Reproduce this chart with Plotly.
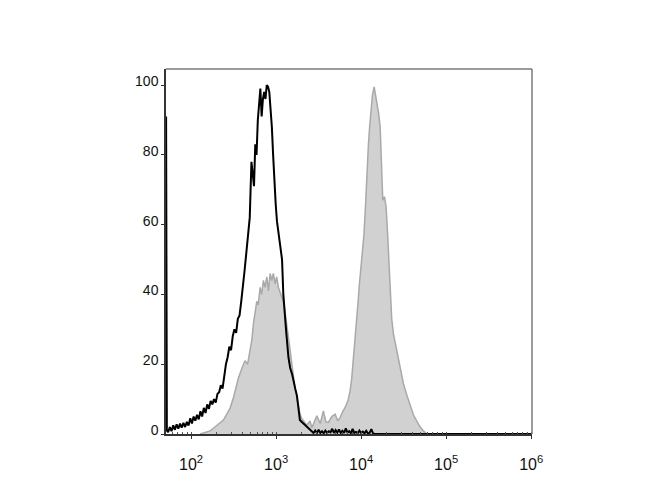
import plotly.graph_objects as go

# ---- data (log10 fluorescence, % of max) ----
ctrl_log = [1.706, 1.715, 1.73, 1.75, 1.77, 1.79, 1.81, 1.83, 1.85, 1.87, 1.89, 1.91, 1.93, 1.95, 1.97, 1.99,
            2.01, 2.03, 2.05, 2.07, 2.09, 2.11, 2.13, 2.15, 2.17, 2.19, 2.21, 2.23, 2.25, 2.27, 2.29, 2.31,
            2.33, 2.35, 2.37, 2.39, 2.41, 2.43, 2.45, 2.47, 2.49, 2.51, 2.53, 2.55, 2.57, 2.59, 2.61, 2.63,
            2.65, 2.67, 2.69, 2.71, 2.725, 2.74, 2.755, 2.77, 2.785, 2.80, 2.815, 2.83, 2.845, 2.86, 2.875,
            2.89, 2.905, 2.92, 2.935, 2.95, 2.965, 2.98, 2.995, 3.01, 3.03, 3.05, 3.07, 3.085, 3.10, 3.12,
            3.145, 3.165, 3.19, 3.205, 3.225, 3.245, 3.265, 3.28, 3.30, 3.32, 3.34, 3.36, 3.38, 3.40, 3.42,
            3.44, 3.46, 3.48, 3.50, 3.52, 3.54, 3.56, 3.58, 3.60, 3.62, 3.64, 3.66, 3.68, 3.70, 3.72, 3.74,
            3.76, 3.78, 3.80, 3.82, 3.84, 3.86, 3.88, 3.90, 3.92, 3.94, 3.96, 3.98, 4.00, 4.02, 4.04, 4.06,
            4.08, 4.10, 4.12, 4.14, 4.16, 6.01]
ctrl_pct = [91, 1.0, 0.5, 2, 0.8, 2.5, 1.2, 2.8, 1.5, 3, 1.8, 3.2, 2, 3.5, 2.4, 4.5,
            3, 5, 3.8, 5.5, 4.2, 6.5, 5, 7.5, 6, 8.5, 7.2, 9.5, 8.5, 10, 9, 11.5,
            12, 14, 13, 17, 20, 22, 25, 24, 28, 30, 29, 33, 34, 38, 42, 47,
            52, 57, 62, 78, 74, 71, 83, 80, 90, 96, 99, 91, 96, 98, 96,
            100, 99.5, 98, 93, 88, 80, 72, 66, 61, 57, 53, 50, 40, 34, 29,
            22, 19, 17, 15, 13, 11, 7, 4, 3.5, 3, 2.5, 2.3, 1.5, 1.2, 0.5,
            0.3, 1, 0.3, 1.2, 0.3, 0.8, 0.2, 1, 0.3, 0.8, 0.5, 1.5, 0.3, 1.1, 0.4, 1.3,
            0.3, 0.9, 0.3, 1.6, 0.4, 0.8, 0.2, 1.5, 0.3, 0.6, 0.2, 1.0, 0.3, 0.7, 0.2, 0.9,
            0.2, 0.3, 1.4, 0.2, 0, 0]

stain_log = [2.106, 2.16, 2.224, 2.28, 2.341, 2.38, 2.42, 2.46, 2.498, 2.53, 2.556, 2.60, 2.635, 2.665,
             2.694, 2.715, 2.733, 2.755, 2.773, 2.79, 2.812, 2.83, 2.851, 2.87, 2.891, 2.91, 2.93, 2.949,
             2.968, 2.988, 3.007, 3.027, 3.055, 3.086, 3.105, 3.126, 3.145, 3.165, 3.185, 3.204, 3.224,
             3.244, 3.262, 3.282, 3.30, 3.321, 3.36, 3.40, 3.42, 3.45, 3.479, 3.52, 3.556, 3.585, 3.615,
             3.655, 3.694, 3.725, 3.753, 3.785, 3.812, 3.845, 3.871, 3.89, 3.909, 3.93, 3.949, 3.965, 3.98,
             4.0, 4.018, 4.033, 4.047, 4.066, 4.086, 4.10, 4.114, 4.133, 4.153, 4.17, 4.185, 4.205, 4.224,
             4.24, 4.255, 4.275, 4.294, 4.31, 4.321, 4.341, 4.36, 4.38, 4.41, 4.439, 4.47, 4.498, 4.54,
             4.576, 4.615, 4.655, 4.695, 4.733, 4.773]
stain_pct = [0, 0.5, 0.9, 2.0, 3.3, 4.0, 5.7, 7.5, 10.4, 13.5, 16, 19, 21, 20, 24, 27, 31.6, 35, 38,
             37, 42, 40, 44, 42, 45, 41, 46, 44, 46, 43, 45, 42, 40, 38, 35, 31.6, 28, 24, 20, 16, 13,
             10.4, 8, 5.7, 4.5, 3.7, 2.5, 3.7, 1.8, 3.5, 5.2, 3.0, 6.6, 3.5, 3.3, 5.0, 5.7, 3.8, 4.7,
             6.5, 7.6, 9.5, 12.4, 16, 21, 27, 33, 38, 43, 48, 52.6, 57, 63, 74, 83, 88, 93, 97, 99.5,
             97, 95.7, 92, 88, 76, 67, 68, 65, 58, 52.6, 40, 33, 28.7, 25, 22, 18, 14.4, 11, 8.6, 5.5,
             3.7, 2.0, 0.9, 0]

xtick_vals = [100, 1000, 10000, 100000, 1000000]
xtick_text = ["10<sup>2</sup>", "10<sup>3</sup>", "10<sup>4</sup>", "10<sup>5</sup>", "10<sup>6</sup>"]
ytick_vals = [0, 20, 40, 60, 80, 100]
ytick_text = ["0", "20", "40", "60", "80", "100"]

fig = go.Figure()
fig.add_trace(go.Scatter(
    x=[10 ** v for v in stain_log], y=stain_pct, mode="lines",
    line=dict(color="#a9a9a9", width=1.5), fill="tozeroy", fillcolor="#d1d1d1",
    showlegend=False, hoverinfo="skip"))
fig.add_trace(go.Scatter(
    x=[10 ** v for v in ctrl_log], y=ctrl_pct, mode="lines",
    line=dict(color="#000000", width=2), showlegend=False, hoverinfo="skip"))

fig.update_layout(
    width=670, height=500,
    margin=dict(l=158, r=146, t=61, b=74),
    paper_bgcolor="white", plot_bgcolor="white",
    font=dict(family="Arial, Liberation Sans, sans-serif", color="#111111"),
    xaxis=dict(type="log", range=[1.705, 6.01], tickvals=xtick_vals, ticktext=xtick_text,
               ticks="outside", ticklen=3, tickcolor="#333", showgrid=False, zeroline=False,
               showline=True, linecolor="#333", linewidth=1.5, tickfont=dict(size=16),
               ticklabelstandoff=12,
               minor=dict(ticks="inside", ticklen=2, tickcolor="#555", dtick="D1", showgrid=False)),
    yaxis=dict(range=[0, 104.6], tickvals=ytick_vals, ticktext=ytick_text,
               ticks="outside", ticklen=3, tickcolor="#333", showgrid=False, zeroline=False,
               showline=True, linecolor="#333", linewidth=1.5, tickfont=dict(size=14),
               ticklabelshift=-4, ticklabelstandoff=0),
    shapes=[
        dict(type="line", xref="paper", yref="paper", x0=0, x1=1, y0=1, y1=1,
             line=dict(color="#7a7a7a", width=1.5)),
        dict(type="line", xref="paper", yref="paper", x0=1, x1=1, y0=0, y1=1,
             line=dict(color="#7a7a7a", width=1.5)),
    ],
)

fig.write_html("out.html")
